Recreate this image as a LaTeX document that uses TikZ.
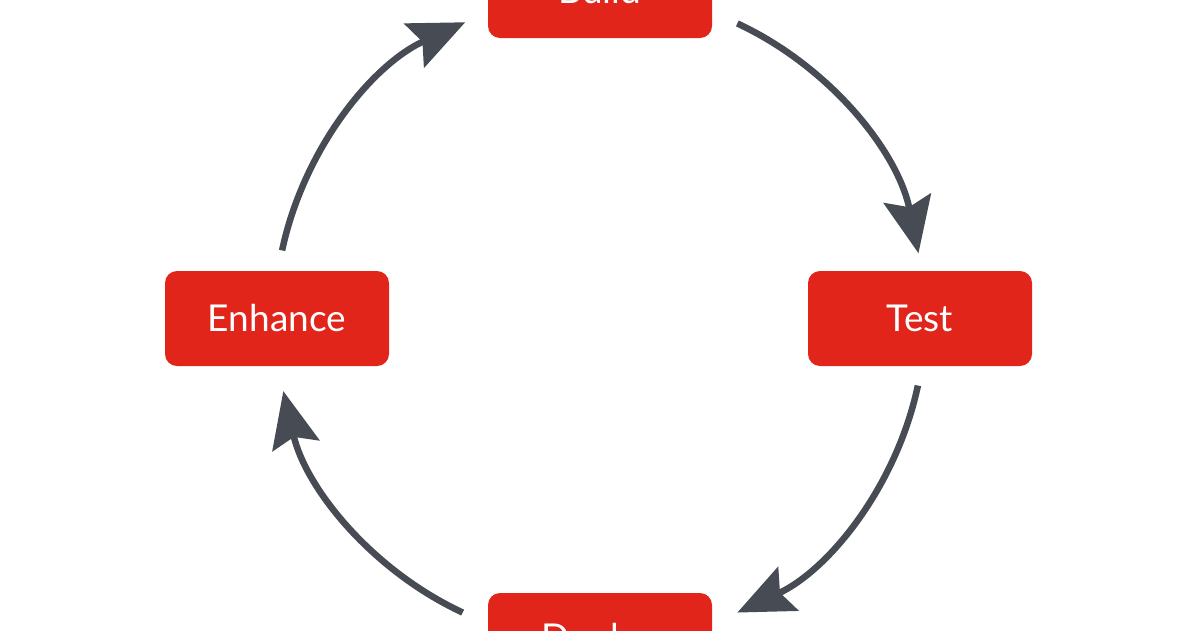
\documentclass[tikz,border=0pt]{standalone}
\usepackage{fontspec}
\setmainfont{Lato}
\usetikzlibrary{arrows.meta}
\definecolor{boxred}{HTML}{E1251B}
\definecolor{arrgray}{HTML}{474B53}
\tikzset{
  stagebox/.style={fill=boxred, draw=none, rounded corners=12pt, minimum width=224pt, minimum height=95pt, inner sep=0pt, text=white, font=\fontsize{37}{44}\selectfont},
  cyclearrow/.style={draw=arrgray, line width=6.5pt, -{Stealth[length=56pt, width=48pt, inset=9pt]}}
}
\begin{document}
\begin{tikzpicture}[x=1pt,y=-1pt]
\useasboundingbox (0,0) rectangle (1200,630);
\fill[white] (0,0) rectangle (1200,630);
\coordinate (c) at (600,318);
\node[stagebox] (build) at (600,-9.5) {Build};
\node[stagebox] (test) at (920,318.5) {Test};
\node[stagebox] (deploy) at (600,640.5) {Deploy};
\node[stagebox] (enhance) at (277,318.5) {Enhance};
\draw[cyclearrow] ([shift={(-65:325)}]c) arc[start angle=-65, end angle=-11.5, radius=325];
\draw[cyclearrow] ([shift={(12:325)}]c) arc[start angle=12, end angle=65, radius=325];
\draw[cyclearrow] ([shift={(115:325)}]c) arc[start angle=115, end angle=167, radius=325];
\draw[cyclearrow] ([shift={(-168:325)}]c) arc[start angle=-168, end angle=-114.5, radius=325];
\end{tikzpicture}
\end{document}
